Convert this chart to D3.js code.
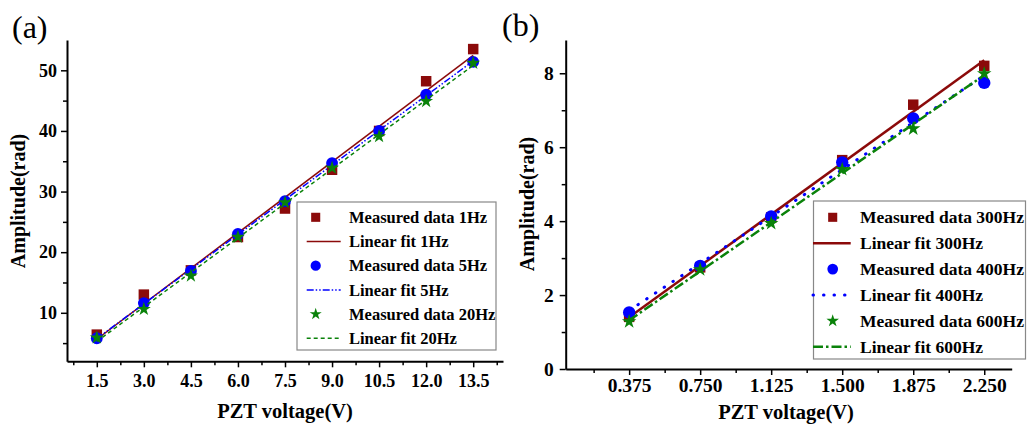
<!DOCTYPE html>
<html>
<head>
<meta charset="utf-8">
<script src="https://cdn.jsdelivr.net/npm/d3@7"></script>
<style>
  body { margin: 0; background: #fff; }
  svg { font-family: "Liberation Serif", "Times New Roman", serif; font-weight: bold; }
  .axis path, .axis line { stroke: #000; }
  .axis path { stroke-width: 2; }
  .axis line { stroke-width: 1.5; }
</style>
</head>
<body>
<script>
// panel (a): low frequency
var voltA = [1.5, 3.0, 4.5, 6.0, 7.5, 9.0, 10.5, 12.0, 13.5];
var amp1Hz = [6.4, 13.0, 17.0, 22.5, 27.2, 33.6, 40.0, 48.2, 53.5];
var amp5Hz = [5.8, 11.6, 16.9, 23.0, 28.4, 34.7, 40.0, 46.0, 51.4];
var amp20Hz = [5.9, 10.6, 16.1, 22.5, 28.2, 33.9, 39.1, 44.9, 51.2];
var xLabelsA = ["1.5", "3.0", "4.5", "6.0", "7.5", "9.0", "10.5", "12.0", "13.5"];
var yTicksA = [10, 20, 30, 40, 50];

// panel (b): high frequency
var voltB = [0.375, 0.750, 1.125, 1.500, 1.875, 2.250];
var amp300Hz = [1.41, 2.75, 4.10, 5.65, 7.15, 8.20];
var amp400Hz = [1.53, 2.79, 4.13, 5.59, 6.78, 7.74];
var amp600Hz = [1.28, 2.69, 3.94, 5.40, 6.50, 7.99];
var xLabelsB = ["0.375", "0.750", "1.125", "1.500", "1.875", "2.250"];
var yTicksB = [0, 2, 4, 6, 8];

var labelsA = ["Measured data 1Hz", "Linear fit 1Hz", "Measured data 5Hz", "Linear fit 5Hz", "Measured data 20Hz", "Linear fit 20Hz"];
var labelsB = ["Measured data 300Hz", "Linear fit 300Hz", "Measured data 400Hz", "Linear fit 400Hz", "Measured data 600Hz", "Linear fit 600Hz"];

var red = "#8B0A0A", blue = "#0000FF", green = "#0A820A";

var svg = d3.select("body").append("svg")
    .attr("width", 1027)
    .attr("height", 436);

function linFit(xs, ys) {
    var mx = d3.mean(xs), my = d3.mean(ys);
    var sxy = d3.sum(xs, function(x, i) { return (x - mx) * (ys[i] - my); });
    var sxx = d3.sum(xs, function(x) { return (x - mx) * (x - mx); });
    var b = sxy / sxx;
    return function(x) { return my + b * (x - mx); };
}

function drawPanel(p) {
    var g = svg.append("g");
    var x = d3.scaleLinear().domain(p.xDomain).range([p.left, p.right]);
    var y = d3.scaleLinear().domain(p.yDomain).range([p.bottom, p.top]);

    // minor ticks
    g.append("g").attr("class", "axis")
        .attr("transform", "translate(0," + p.bottom + ")")
        .call(d3.axisBottom(x).tickValues(p.xMinor).tickSize(4).tickSizeOuter(0).tickFormat(""))
        .select("path").remove();
    g.append("g").attr("class", "axis")
        .attr("transform", "translate(" + p.left + ",0)")
        .call(d3.axisLeft(y).tickValues(p.yMinor).tickSize(4).tickSizeOuter(0).tickFormat(""))
        .select("path").remove();

    // major axes
    var xa = g.append("g").attr("class", "axis")
        .attr("transform", "translate(0," + p.bottom + ")")
        .call(d3.axisBottom(x).tickValues(p.xs).tickSize(6).tickSizeOuter(0)
            .tickPadding(p.xPad).tickFormat(function(d, i) { return p.xLabels[i]; }));
    xa.selectAll("text").style("font-size", p.tickFont + "px").attr("fill", "#000");
    var ya = g.append("g").attr("class", "axis")
        .attr("transform", "translate(" + p.left + ",0)")
        .call(d3.axisLeft(y).tickValues(p.yTicks).tickSize(6).tickSizeOuter(0).tickPadding(p.yPad));
    ya.selectAll("text").style("font-size", p.tickFont + "px").attr("fill", "#000");
    g.selectAll(".axis text").style("font-family", "Liberation Serif").style("font-weight", "bold");

    // series: markers then fit line, in plot order
    p.series.forEach(function(s) {
        g.append("g").selectAll("path")
            .data(s.ys)
            .enter().append("path")
            .attr("transform", function(d, i) { return "translate(" + x(p.xs[i]) + "," + y(d) + ")"; })
            .attr("d", d3.symbol().type(s.symbol).size(s.size))
            .attr("fill", s.color);
        var f = linFit(p.xs, s.ys);
        var x0 = p.xs[0], x1 = p.xs[p.xs.length - 1];
        g.append("line")
            .attr("x1", x(x0)).attr("y1", y(f(x0)))
            .attr("x2", x(x1)).attr("y2", y(f(x1)))
            .attr("stroke", s.color)
            .attr("stroke-width", s.width)
            .attr("stroke-dasharray", s.dash)
            .attr("stroke-linecap", s.cap || "butt");
    });

    // axis titles
    g.append("text")
        .attr("x", p.xTitle[0]).attr("y", p.xTitle[1])
        .attr("text-anchor", "middle")
        .style("font-size", "20.5px")
        .text("PZT voltage(V)");
    g.append("text")
        .attr("transform", "translate(" + p.yTitle[0] + "," + p.yTitle[1] + ") rotate(-90)")
        .attr("text-anchor", "middle")
        .attr("dy", "0.35em")
        .style("font-size", "20px")
        .text("Amplitude(rad)");

    // panel letter
    g.append("text")
        .attr("x", p.tag[0]).attr("y", p.tag[1])
        .style("font-size", "32px").style("font-weight", "normal")
        .text(p.tagText);

    // legend
    var lg = g.append("g");
    lg.append("rect")
        .attr("x", p.leg.x).attr("y", p.leg.y)
        .attr("width", p.leg.w).attr("height", p.leg.h)
        .attr("fill", "#fff").attr("stroke", "#888").attr("stroke-width", 1.2);
    p.legLabels.forEach(function(lab, i) {
        var s = p.series[Math.floor(i / 2)];
        var cy = p.leg.row0 + i * p.leg.step;
        if (i % 2 === 0) {
            lg.append("path")
                .attr("transform", "translate(" + p.leg.sym + "," + cy + ")")
                .attr("d", d3.symbol().type(s.symbol).size(s.size * 0.75))
                .attr("fill", s.color);
        } else {
            lg.append("line")
                .attr("x1", p.leg.l0).attr("x2", p.leg.l1)
                .attr("y1", cy).attr("y2", cy)
                .attr("stroke", s.color).attr("stroke-width", s.width)
                .attr("stroke-dasharray", s.dash)
                .attr("stroke-linecap", s.cap || "butt");
        }
        lg.append("text")
            .attr("x", p.leg.tx).attr("y", cy)
            .attr("dy", "0.35em")
            .style("font-size", p.legFont + "px")
            .text(lab);
    });
}

drawPanel({
    left: 67, right: 503, top: 40, bottom: 361.3,
    xDomain: [0.55, 14.45], yDomain: [2, 55],
    xs: voltA, xLabels: xLabelsA, yTicks: yTicksA,
    xMinor: d3.range(0.75, 14.4, 1.5), yMinor: [5, 15, 25, 35, 45],
    xPad: 7, yPad: 4, tickFont: 18,
    xTitle: [285, 418], yTitle: [18, 201],
    tag: [12, 38], tagText: "(a)",
    series: [
        {ys: amp1Hz, color: red, symbol: d3.symbolSquare, size: 110, width: 1.5, dash: null},
        {ys: amp5Hz, color: blue, symbol: d3.symbolCircle, size: 110, width: 1.5, dash: "7,2,1.5,2,1.5,2"},
        {ys: amp20Hz, color: green, symbol: d3.symbolStar, size: 60, width: 1.5, dash: "4,3"}
    ],
    legLabels: labelsA, legFont: 16.5,
    leg: {x: 297, y: 202, w: 199, h: 148, row0: 217.3, step: 24.2, sym: 315.7, l0: 306.7, l1: 340.7, tx: 349}
});

drawPanel({
    left: 565.7, right: 1011.7, top: 40, bottom: 369,
    xDomain: [0.04, 2.395], yDomain: [0, 8.9],
    xs: voltB, xLabels: xLabelsB, yTicks: yTicksB,
    xMinor: d3.range(0.1875, 2.39, 0.375), yMinor: [1, 3, 5, 7],
    xPad: 3, yPad: 6, tickFont: 19.5,
    xTitle: [786, 419], yTitle: [527, 204],
    tag: [502, 36], tagText: "(b)",
    series: [
        {ys: amp300Hz, color: red, symbol: d3.symbolSquare, size: 110, width: 2.5, dash: null},
        {ys: amp400Hz, color: blue, symbol: d3.symbolCircle, size: 120, width: 3, dash: "0.5,10", cap: "round"},
        {ys: amp600Hz, color: green, symbol: d3.symbolStar, size: 65, width: 2.5, dash: "10,3,2.5,3"}
    ],
    legLabels: labelsB, legFont: 17.5,
    leg: {x: 813.5, y: 201, w: 212, h: 158, row0: 217.3, step: 25.9, sym: 832.7, l0: 813, l1: 850.7, tx: 860}
});
</script>
</body>
</html>
